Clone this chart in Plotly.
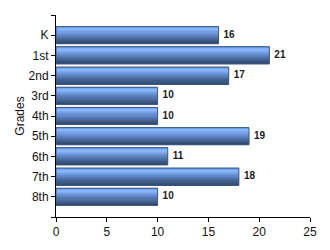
import plotly.graph_objects as go

grades = ["K", "1st", "2nd", "3rd", "4th", "5th", "6th", "7th", "8th"]
counts = [16, 21, 17, 10, 10, 19, 11, 18, 10]
x_ticks = [0, 5, 10, 15, 20, 25]

# vertical gradient across bar thickness (top -> bottom)
gradient = ["#5f8fd8", "#76a6f0", "#86b4fa", "#8ab6f8", "#80aaf0", "#76a0e6",
            "#6d96da", "#658dce", "#5e84c2", "#577bb6", "#5073a9", "#4a6b9e",
            "#446393", "#3e5b88", "#38537c", "#334b70"]

pos = list(range(len(grades)))
bar_w = 0.85
n = len(gradient)
slice_w = bar_w / n

fig = go.Figure()
for k, col in enumerate(gradient):
    fig.add_trace(go.Bar(
        x=counts, y=pos, orientation="h",
        width=slice_w + 0.004, offset=-bar_w / 2 + k * slice_w,
        marker=dict(color=col, line=dict(width=0)),
        hoverinfo="skip", showlegend=False))

# outline
fig.add_trace(go.Bar(
    x=counts, y=pos, orientation="h", width=bar_w,
    marker=dict(color="rgba(0,0,0,0)", line=dict(color="#3d5a85", width=1)),
    hoverinfo="skip", showlegend=False))

# value labels
fig.add_trace(go.Scatter(
    x=counts, y=pos, mode="text",
    text=[f"\u2002<b>{v}</b>" for v in counts], textposition="middle right",
    textfont=dict(family="Liberation Sans, Arial", size=10, color="#1a1a1a"),
    hoverinfo="skip", showlegend=False, cliponaxis=False))

fig.update_layout(
    width=330, height=250, barmode="overlay",
    margin=dict(l=56, r=20, t=15, b=33),
    paper_bgcolor="white", plot_bgcolor="white",
    font=dict(family="Liberation Sans, Arial", size=12, color="#111111"),
)
fig.update_xaxes(
    range=[0, 25], tickvals=x_ticks, ticktext=[str(t) for t in x_ticks],
    showgrid=False, zeroline=False, showline=True, linecolor="black", linewidth=1,
    ticks="outside", ticklen=4, tickcolor="black", tickfont=dict(size=12))
fig.update_yaxes(
    range=[9, -1], tickvals=[-1] + pos + [9], ticktext=[""] + grades + [""],
    showgrid=False, zeroline=False, showline=True, linecolor="black", linewidth=1,
    ticks="outside", ticklen=4, tickcolor="black", tickfont=dict(size=12),
    title=dict(text="Grades", font=dict(size=12), standoff=1))

fig.write_html("out.html")
